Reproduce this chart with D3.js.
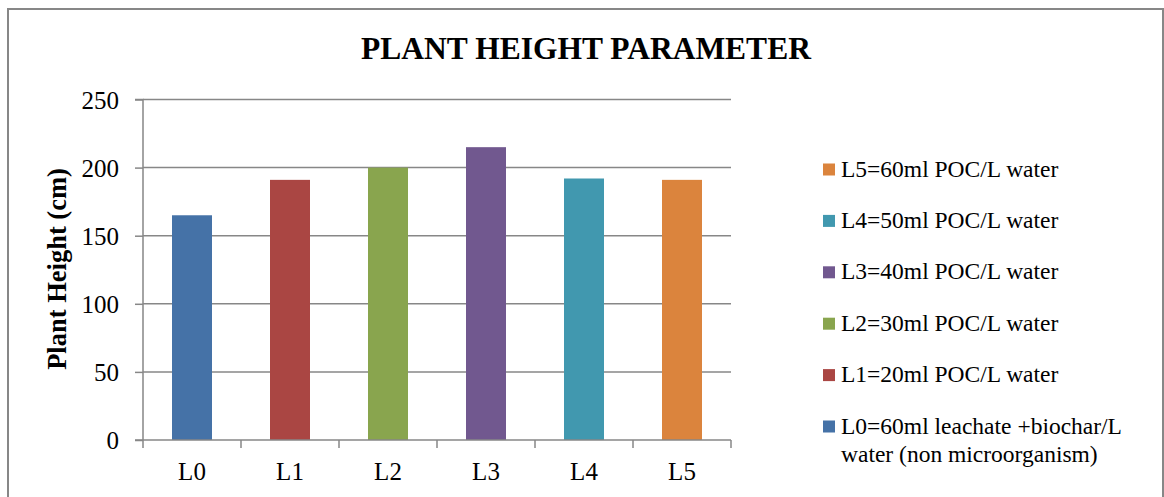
<!DOCTYPE html>
<html><head><meta charset="utf-8">
<script src="https://cdn.jsdelivr.net/npm/d3@7"></script>
<style>
html,body{margin:0;padding:0;background:#fff;}
svg{display:block;}
text{font-family:"Liberation Serif","Times New Roman",serif;fill:#000;}
</style></head>
<body>
<svg id="chart" width="1164" height="497"></svg>
<script>
const categories = ["L0","L1","L2","L3","L4","L5"];
const heights = [165, 191, 200, 215, 192, 191];
const yTicks = [0, 50, 100, 150, 200, 250];
const legendLabels = [
  ["L0=60ml leachate +biochar/L", "water (non microorganism)"],
  ["L1=20ml POC/L water"],
  ["L2=30ml POC/L water"],
  ["L3=40ml POC/L water"],
  ["L4=50ml POC/L water"],
  ["L5=60ml POC/L water"]
];
const colors = ["#4572A7","#AA4643","#89A54E","#71588F","#4198AF","#DB843D"];
const titleText = "PLANT HEIGHT PARAMETER";
const yTitle = "Plant Height (cm)";

const svg = d3.select("#chart");
const gridColor = "#878787";

// outer border
svg.append("rect").attr("x",8).attr("y",9).attr("width",1155).attr("height",500)
  .attr("fill","none").attr("stroke",gridColor).attr("stroke-width",2);

const m = {left:143, right:731, top:99.5, bottom:440};
const xb = d3.scaleBand().domain(categories).range([m.left, m.right]);
const y = d3.scaleLinear().domain([0,250]).range([m.bottom, m.top]);

// gridlines
svg.append("g").selectAll("line").data(yTicks.filter(d=>d>0)).join("line")
  .attr("x1",m.left).attr("x2",m.right).attr("y1",d=>y(d)).attr("y2",d=>y(d))
  .attr("stroke",gridColor).attr("stroke-width",1.5);

// bars
svg.append("g").selectAll("rect").data(categories).join("rect")
  .attr("x",d=>xb(d)+xb.bandwidth()/2-20).attr("width",40)
  .attr("y",(d,i)=>y(heights[i])).attr("height",(d,i)=>y(0)-y(heights[i]))
  .attr("fill",(d,i)=>colors[i]);

// y axis
const yAxis = d3.axisLeft(y).tickValues(yTicks).tickSize(8).tickPadding(16);
const gy = svg.append("g").attr("transform",`translate(${m.left},0)`).call(yAxis);
gy.select(".domain").attr("stroke",gridColor).attr("stroke-width",1.5).attr("d",`M-8,${m.top}H0V${m.bottom}`);
gy.selectAll(".tick line").attr("stroke",gridColor).attr("stroke-width",1.5);
gy.selectAll(".tick text").attr("font-family","Liberation Serif, serif").attr("font-size",25).attr("fill","#000").attr("dy","0.34em");

// x axis
const xAxis = d3.axisBottom(xb).tickSize(0).tickPadding(22);
const gx = svg.append("g").attr("transform",`translate(0,${m.bottom})`).call(xAxis);
gx.select(".domain").attr("stroke",gridColor).attr("stroke-width",1.5).attr("d",`M${m.left-8},0H${m.right}`);
gx.selectAll(".tick text").attr("font-family","Liberation Serif, serif").attr("font-size",25).attr("fill","#000").attr("dy","0.71em");
// category boundary ticks
const bounds = categories.map(c=>xb(c)).concat([m.right]);
gx.append("g").selectAll("line").data(bounds).join("line")
  .attr("x1",d=>d).attr("x2",d=>d).attr("y1",0).attr("y2",8)
  .attr("stroke",gridColor).attr("stroke-width",1.5);

// title
svg.append("text").attr("x",586).attr("y",59).attr("text-anchor","middle")
  .attr("font-size",31.5).attr("font-weight","bold").text(titleText);

// y title
svg.append("text").attr("transform","translate(66,269) rotate(-90)").attr("text-anchor","middle")
  .attr("font-size",26.5).attr("font-weight","bold").text(yTitle);

// legend (reversed order)
const lg = svg.append("g");
const order = d3.range(categories.length).reverse();
order.forEach((i,k)=>{
  const base = 176.5 + k*51.4;
  lg.append("rect").attr("x",823).attr("y",base-13).attr("width",12).attr("height",12).attr("fill",colors[i]);
  const t = lg.append("text").attr("x",841).attr("y",base).attr("font-size",23.5);
  legendLabels[i].forEach((line,j)=>{
    t.append("tspan").attr("x",841).attr("dy", j===0?0:28).text(line);
  });
});
</script>
</body></html>
